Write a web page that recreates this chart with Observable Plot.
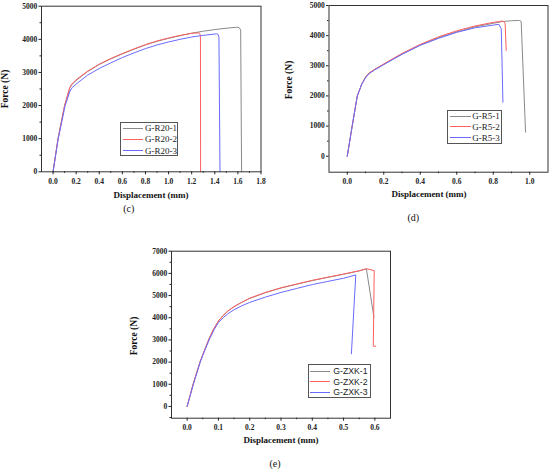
<!DOCTYPE html>
<html><head><meta charset="utf-8">
<script src="https://cdn.jsdelivr.net/npm/d3@7"></script>
<script src="https://cdn.jsdelivr.net/npm/@observablehq/plot@0.6"></script>
<style>
body{margin:0;background:#fff;}
#root{position:relative;width:550px;height:472px;overflow:hidden;background:#fff;font-family:"Liberation Serif",serif;color:#111;}
.pl{position:absolute;}
.t{position:absolute;transform:translate(-50%,-50%);white-space:nowrap;line-height:1;}
.b{font-weight:bold;}
.box{position:absolute;border:1px solid #555;box-sizing:border-box;background:#fff;}
.ln{position:absolute;height:0;}
.lt{position:absolute;transform:translateY(-50%);white-space:nowrap;line-height:1;color:#222;}
</style></head>
<body><div id="root"></div>
<script>
// ---------- Panel (c) ----------
const cNames = ["G-R20-1", "G-R20-2", "G-R20-3"];
const c1X = [0, 0.043, 0.10, 0.143, 0.16, 0.2, 0.3, 0.4, 0.5, 0.6, 0.7, 0.8, 0.9, 1.0, 1.1, 1.2, 1.3, 1.4, 1.5, 1.595, 1.612, 1.624, 1.632];
const c1F = [0, 1000, 2000, 2510, 2620, 2760, 3030, 3240, 3410, 3560, 3700, 3830, 3940, 4030, 4110, 4185, 4245, 4295, 4335, 4366, 4350, 4280, 0];
const c2X = [0, 0.043, 0.10, 0.143, 0.16, 0.2, 0.3, 0.4, 0.5, 0.6, 0.7, 0.8, 0.9, 1.0, 1.1, 1.2, 1.257, 1.27, 1.276, 1.277];
const c2F = [0, 1000, 2000, 2530, 2640, 2780, 3040, 3250, 3420, 3570, 3710, 3840, 3950, 4040, 4120, 4180, 4197, 4180, 4080, 0];
const c3X = [0, 0.045, 0.105, 0.145, 0.165, 0.2, 0.3, 0.4, 0.5, 0.6, 0.7, 0.8, 0.9, 1.0, 1.1, 1.2, 1.3, 1.416, 1.43, 1.436, 1.445];
const c3F = [0, 1000, 2000, 2420, 2540, 2650, 2920, 3120, 3290, 3450, 3590, 3720, 3830, 3920, 4000, 4070, 4120, 4166, 4140, 4050, 0];
const cXTicks = [0, 0.2, 0.4, 0.6, 0.8, 1.0, 1.2, 1.4, 1.6, 1.8];
const cXMinor = [0.1, 0.3, 0.5, 0.7, 0.9, 1.1, 1.3, 1.5, 1.7];
const cYTicks = [0, 1000, 2000, 3000, 4000, 5000];
const cYMinor = [500, 1500, 2500, 3500, 4500];

// ---------- Panel (d) ----------
const dNames = ["G-R5-1", "G-R5-2", "G-R5-3"];
const d1X = [0, 0.027, 0.055, 0.08, 0.1, 0.12, 0.15, 0.2, 0.3, 0.4, 0.5, 0.6, 0.7, 0.8, 0.852, 0.9, 0.944, 0.953, 0.977];
const d1F = [0, 1000, 2000, 2400, 2620, 2760, 2880, 3050, 3390, 3690, 3930, 4130, 4290, 4410, 4470, 4495, 4504, 4471, 798];
const d2X = [0, 0.027, 0.055, 0.08, 0.1, 0.12, 0.15, 0.2, 0.3, 0.4, 0.5, 0.6, 0.7, 0.8, 0.852, 0.865, 0.871];
const d2F = [0, 1000, 2000, 2400, 2620, 2760, 2880, 3060, 3410, 3710, 3960, 4160, 4320, 4440, 4485, 4414, 3508];
const d3X = [0, 0.027, 0.055, 0.08, 0.1, 0.12, 0.15, 0.2, 0.3, 0.4, 0.5, 0.6, 0.7, 0.8, 0.831, 0.844, 0.853];
const d3F = [0, 1000, 2000, 2400, 2600, 2740, 2860, 3040, 3380, 3680, 3910, 4110, 4260, 4350, 4375, 4228, 1792];
const dXTicks = [0, 0.2, 0.4, 0.6, 0.8, 1.0];
const dXMinor = [0.1, 0.3, 0.5, 0.7, 0.9];
const dYTicks = [0, 1000, 2000, 3000, 4000, 5000];
const dYMinor = [500, 1500, 2500, 3500, 4500];

// ---------- Panel (e) ----------
const eNames = ["G-ZXK-1", "G-ZXK-2", "G-ZXK-3"];
const e1X = [0, 0.019, 0.041, 0.056, 0.07, 0.085, 0.1, 0.115, 0.13, 0.15, 0.175, 0.2, 0.25, 0.3, 0.35, 0.4, 0.45, 0.5, 0.55, 0.573, 0.597];
const e1F = [0, 1000, 2000, 2550, 3050, 3500, 3850, 4100, 4300, 4500, 4700, 4870, 5130, 5340, 5510, 5676, 5820, 5960, 6110, 6200, 4020];
const e2X = [0, 0.019, 0.041, 0.056, 0.07, 0.085, 0.1, 0.115, 0.13, 0.15, 0.175, 0.2, 0.25, 0.3, 0.35, 0.4, 0.45, 0.5, 0.55, 0.573, 0.598, 0.595, 0.603];
const e2F = [0, 1000, 2000, 2550, 3050, 3500, 3850, 4100, 4300, 4500, 4700, 4880, 5140, 5350, 5520, 5686, 5830, 5970, 6120, 6210, 6126, 2716, 2716];
const e3X = [0, 0.02, 0.042, 0.057, 0.072, 0.087, 0.1, 0.115, 0.13, 0.15, 0.175, 0.2, 0.25, 0.3, 0.35, 0.4, 0.45, 0.5, 0.539, 0.525];
const e3F = [0, 1000, 2000, 2550, 3050, 3480, 3780, 4000, 4180, 4360, 4540, 4690, 4930, 5140, 5320, 5495, 5640, 5780, 5930, 2374];
const eXTicks = [0, 0.1, 0.2, 0.3, 0.4, 0.5, 0.6];
const eXMinor = [0.05, 0.15, 0.25, 0.35, 0.45, 0.55];
const eYTicks = [0, 1000, 2000, 3000, 4000, 5000, 6000, 7000];
const eYMinor = [-500, 500, 1500, 2500, 3500, 4500, 5500, 6500];

const seriesColors = ["#8a8a8a", "#ff6060", "#6a6aff"];

const root = document.getElementById("root");

function panel(o) {
  const data = [];
  o.series.forEach((s, i) => s[0].forEach((x, j) => data.push({x, f: s[1][j], name: o.names[i]})));
  const svg = Plot.plot({
    width: o.width, height: o.height,
    marginLeft: o.mL, marginRight: o.mR, marginTop: o.mT, marginBottom: o.mB,
    x: {domain: o.xDom, label: null},
    y: {domain: o.yDom, label: null},
    color: {domain: o.names, range: seriesColors},
    style: {fontFamily: "Liberation Serif", fontSize: "7.5px", fontWeight: "bold", background: "transparent", color: "#222", overflow: "visible"},
    marks: [
      Plot.line(data, {x: "x", y: "f", z: "name", stroke: "name", strokeWidth: 1}),
      Plot.frame({stroke: "#333", strokeWidth: 1}),
      Plot.axisX(o.xMaj, {label: null, tickSize: 3, tickPadding: 3.5, tickFormat: d3.format(".1f")}),
      Plot.axisX(o.xMin, {label: null, tickSize: 1.5, tickFormat: () => ""}),
      Plot.axisY(o.yMaj, {label: null, tickSize: 2.5, tickPadding: 1.8, tickFormat: d3.format("d")}),
      Plot.axisY(o.yMin, {label: null, tickSize: 1.5, tickFormat: () => ""})
    ]
  });
  svg.classList.add("pl");
  svg.style.left = o.left + "px";
  svg.style.top = o.top + "px";
  root.appendChild(svg);
}

function text(str, cx, cy, size, cls, rot) {
  const d = document.createElement("div");
  d.className = "t " + (cls || "");
  d.textContent = str;
  d.style.left = cx + "px";
  d.style.top = cy + "px";
  d.style.fontSize = size + "px";
  if (rot) d.style.transform = "translate(-50%,-50%) rotate(-90deg)";
  root.appendChild(d);
}

function legend(o) {
  const b = document.createElement("div");
  b.className = "box";
  Object.assign(b.style, {left: o.x + "px", top: o.y + "px", width: o.w + "px", height: o.h + "px"});
  root.appendChild(b);
  o.names.forEach((n, i) => {
    const l = document.createElement("div");
    l.className = "ln";
    Object.assign(l.style, {left: o.lx0 + "px", top: (o.rows[i] - 0.5) + "px", width: (o.lx1 - o.lx0) + "px", borderTop: "1px solid " + seriesColors[i]});
    root.appendChild(l);
    const t = document.createElement("div");
    t.className = "lt";
    t.textContent = n;
    Object.assign(t.style, {left: o.tx + "px", top: o.rows[i] + "px", fontSize: o.size + "px", fontFamily: o.font});
    root.appendChild(t);
  });
}

// Panel (c)
panel({left: 0, top: 0, width: 275, height: 205, mL: 41, mR: 14.5, mT: 5.7, mB: 33.7,
  xDom: [-0.1, 1.8], yDom: [0, 5000], xMaj: cXTicks, xMin: cXMinor, yMaj: cYTicks, yMin: cYMinor,
  names: cNames, series: [[c1X, c1F], [c2X, c2F], [c3X, c3F]]});
// Panel (d)
panel({left: 275, top: 0, width: 275, height: 205, mL: 53.5, mR: 2.5, mT: 5, mB: 33.3,
  xDom: [-0.1, 1.1], yDom: [-530, 5000], xMaj: dXTicks, xMin: dXMinor, yMaj: dYTicks, yMin: dYMinor,
  names: dNames, series: [[d1X, d1F], [d2X, d2F], [d3X, d3F]]});
// Panel (e)
panel({left: 120, top: 236, width: 300, height: 210, mL: 51, mR: 30, mT: 14.7, mB: 28.3,
  xDom: [-0.05, 0.65], yDom: [-530, 7000], xMaj: eXTicks, xMin: eXMinor, yMaj: eYTicks, yMin: eYMinor,
  names: eNames, series: [[e1X, e1F], [e2X, e2F], [e3X, e3F]]});

// Axis titles and panel letters
text("Force (N)", 6, 89, 9.5, "b", true);
text("Displacement (mm)", 151, 195, 9, "b");
text("(c)", 128.7, 209.3, 10);
text("Force (N)", 290, 80, 9.5, "b", true);
text("Displacement (mm)", 429, 194.3, 9, "b");
text("(d)", 413.3, 218.3, 10);
text("Force (N)", 135, 336, 9.5, "b", true);
text("Displacement (mm)", 281, 440.3, 9, "b");
text("(e)", 275, 464.3, 10);

// Legends
legend({x: 120, y: 122, w: 57.5, h: 33.5, rows: [128.3, 139.3, 150.5], lx0: 122.7, lx1: 143.3, tx: 145, size: 9, font: "Liberation Serif", names: cNames});
legend({x: 447.3, y: 110, w: 54.5, h: 33.5, rows: [116.2, 126.8, 137.5], lx0: 450, lx1: 470.7, tx: 472.3, size: 9, font: "Liberation Serif", names: dNames});
legend({x: 307.7, y: 364, w: 63.5, h: 33.7, rows: [371, 381.7, 392.2], lx0: 310, lx1: 330, tx: 333.3, size: 8.7, font: "Liberation Sans", names: eNames});
</script>
</body></html>
